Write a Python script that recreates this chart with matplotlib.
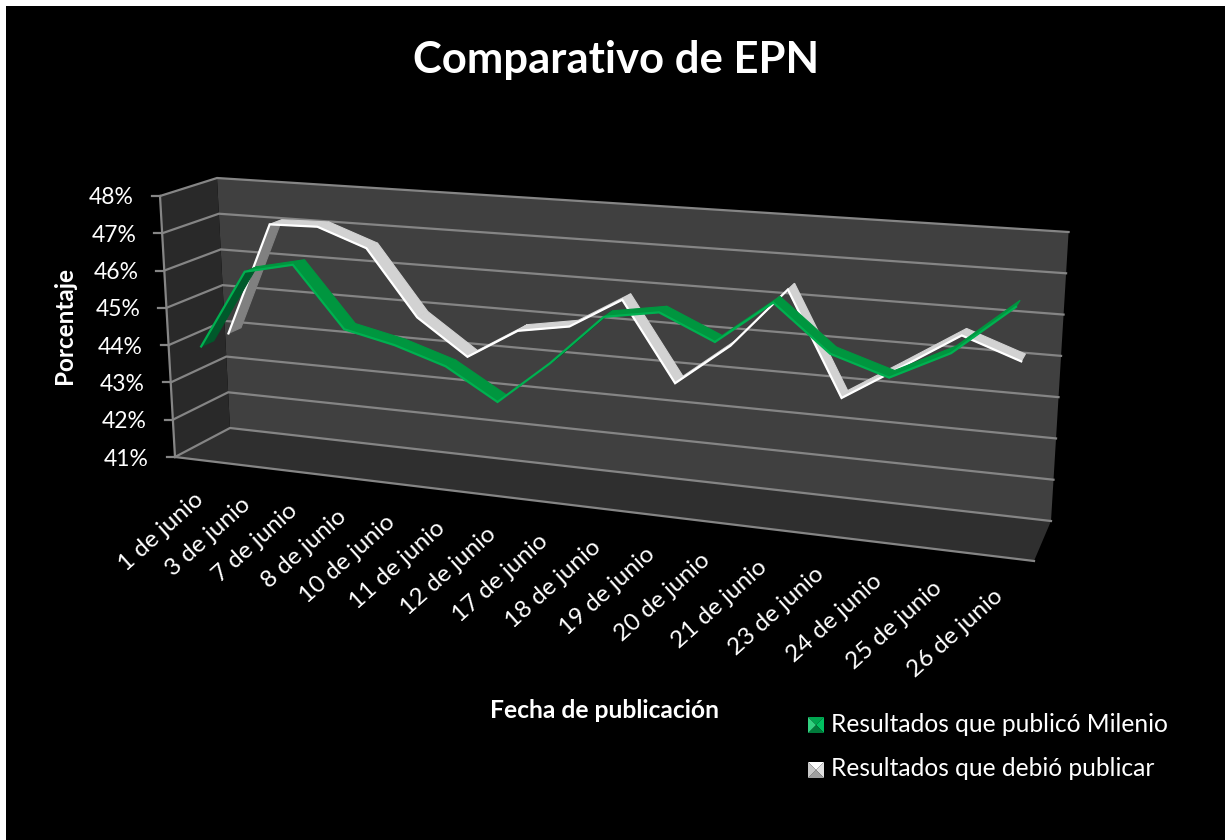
"""
Comparativo de EPN: grafico de lineas con efecto 3D (estilo Excel).
"""
import matplotlib
matplotlib.use("Agg")
import matplotlib.pyplot as plt
import numpy as np

# Datos
FECHAS = ["1 de junio", "3 de junio", "7 de junio", "8 de junio", "10 de junio", "11 de junio",
          "12 de junio", "17 de junio", "18 de junio", "19 de junio", "20 de junio", "21 de junio",
          "23 de junio", "24 de junio", "25 de junio", "26 de junio"]
MILENIO = [43.97, 46.08, 46.37, 44.79, 44.50, 44.08, 43.30, 44.41,
           45.70, 45.93, 45.32, 46.40, 45.28, 44.84, 45.55, 46.76]
DEBIO = [43.99, 47.07, 47.10, 46.62, 44.89, 43.97, 44.77, 45.00,
         45.80, 43.80, 44.87, 46.39, 43.83, 44.71, 45.61, 45.11]
Y_TICKS = [41, 42, 43, 44, 45, 46, 47, 48]

# Estilo
C_WALL = "#404040"
C_SIDE = "#292929"
C_FLOOR = "#2F2F2F"
C_GRID = "#858585"
C_GREEN = ("#00B050", "#00963F", "#00592B")
C_WHITE = ("#FFFFFF", "#D2D2D2", "#808080")

plt.rcParams.update({
    "font.family": ["Lato", "DejaVu Sans"],
    "figure.facecolor": "white",
})

# Esquinas de la caja en pixeles: (izq/der, abajo/arriba) para frente y fondo
FRONT = {"lb": (175, 457), "rb": (1034, 561), "lt": (160, 196), "rt": (1052, 259)}
BACK = {"lb": (230, 428), "rb": (1051, 521), "lt": (217, 178), "rt": (1068.6, 232)}


def cat_pos(i):
    """Posicion de la categoria a lo largo del eje, con perspectiva."""
    i = np.asarray(i, dtype=float)
    return (0.031 + 0.0535 * i) / (1 - 0.00884 * i)


def project(s, v, d):
    """Proyecta (s a lo largo, v porcentaje, d profundidad) a pixeles."""
    s, v, d = np.asarray(s, float), np.asarray(v, float), np.asarray(d, float)
    t = (v - Y_TICKS[0]) / (Y_TICKS[-1] - Y_TICKS[0])
    pts = []
    for k in (0, 1):
        f = (1 - s) * ((1 - t) * FRONT["lb"][k] + t * FRONT["lt"][k]) + s * ((1 - t) * FRONT["rb"][k] + t * FRONT["rt"][k])
        b = (1 - s) * ((1 - t) * BACK["lb"][k] + t * BACK["lt"][k]) + s * ((1 - t) * BACK["rb"][k] + t * BACK["rt"][k])
        pts.append((1 - d) * f + d * b)
    return pts[0], pts[1]


def draw_box(ax):
    xs, ys = project([0, 1, 1, 0], [41, 41, 48, 48], 1)
    ax.fill(xs, ys, color=C_WALL, lw=0, zorder=1)
    xs, ys = project([0, 0, 0, 0], [41, 41, 48, 48], [0, 1, 1, 0])
    ax.fill(xs, ys, color=C_SIDE, lw=0, zorder=1)
    xs, ys = project([0, 1, 1, 0], [41, 41, 41, 41], [0, 0, 1, 1])
    ax.fill(xs, ys, color=C_FLOOR, lw=0, zorder=1)

    for v in Y_TICKS:
        xs, ys = project([0, 0, 1], [v, v, v], [0, 1, 1])
        ax.plot(xs, ys, color=C_GRID, lw=1.6, zorder=2, solid_joinstyle="miter")
        # marca del eje y etiqueta
        x0, y0 = project(0, v, 0)
        ax.plot([x0 - 8, x0], [y0, y0], color=C_GRID, lw=1.6, zorder=2)
        ax.text(x0 - 26, y0 + 2, f"{v}%", ha="right", va="center", color="white", fontsize=16.5)

    xs, ys = project([0, 0], [41, 48], [0, 0])
    ax.plot(xs, ys, color=C_GRID, lw=1.6, zorder=2)
    xs, ys = project([0, 1], [41, 41], [0, 0])
    ax.plot(xs, ys, color=C_GRID, lw=1.6, zorder=2)


def draw_series(ax, values, colors, d0, d1, z):
    """Cinta 3D: un cuadrilatero por tramo y la linea frontal encima."""
    s = cat_pos(np.arange(len(values)))
    vals = np.array(values)
    xf, yf = project(s, vals, d0)
    xb, yb = project(s, vals, d1)
    for i in range(len(vals) - 1):
        dx, dy = xf[i + 1] - xf[i], yf[i + 1] - yf[i]
        ox, oy = xb[i] - xf[i], yb[i] - yf[i]
        cara = colors[2] if dx * oy - dy * ox > 0 else colors[1]
        ax.fill([xf[i], xf[i + 1], xb[i + 1], xb[i]], [yf[i], yf[i + 1], yb[i + 1], yb[i]],
                color=cara, lw=0.8, zorder=z)
    ax.plot(xf, yf, color=colors[0], lw=1.6, zorder=z + 0.5, solid_joinstyle="miter")


def legend_item(ax, x, y, label, shades):
    """Marcador biselado de la leyenda y su texto."""
    r = 8
    cx, cy = x, y
    corners = [(cx - r, cy - r), (cx + r, cy - r), (cx + r, cy + r), (cx - r, cy + r)]
    for k in range(4):
        a, b = corners[k], corners[(k + 1) % 4]
        ax.fill([a[0], b[0], cx], [a[1], b[1], cy], color=shades[k], lw=0, zorder=5)
    ax.text(x + 15, y - 1, label, ha="left", va="center", color="white", fontsize=17.7)


def main():
    fig = plt.figure(figsize=(12.25, 8.4), dpi=100)
    ax = fig.add_axes([0, 0, 1, 1])
    ax.set_xlim(0, 1225)
    ax.set_ylim(840, 0)
    ax.axis("off")
    # borde blanco arriba e izquierda de la captura
    ax.fill([6, 1225, 1225, 6], [6, 6, 840, 840], color="black", lw=0, zorder=0)

    ax.text(616, 60, "Comparativo de EPN", ha="center", va="center", color="white",
            fontsize=31.4, fontweight="bold")

    draw_box(ax)
    draw_series(ax, DEBIO, C_WHITE, 0.6, 0.83, 3)
    draw_series(ax, MILENIO, C_GREEN, 0.1, 0.33, 4)

    for i, fecha in enumerate(FECHAS):
        x0, y0 = project(cat_pos(i), 41, 0)
        ax.text(x0 - 8, y0 + 28, fecha, rotation=42, rotation_mode="anchor", ha="right", va="top",
                color="white", fontsize=17.5)

    ax.text(65, 326, "Porcentaje", rotation=90, ha="center", va="center", color="white",
            fontsize=17.5, fontweight="bold")
    ax.text(604, 710, "Fecha de publicación", ha="center", va="center", color="white",
            fontsize=17.7, fontweight="bold")

    legend_item(ax, 816, 725, "Resultados que publicó Milenio", ("#00A650", "#00C060", "#007A3A", "#33D080"))
    legend_item(ax, 816, 770, "Resultados que debió publicar", ("#FFFFFF", "#E0E0E0", "#A0A0A0", "#C8C8C8"))

    fig.savefig("out.png", dpi=100)
    plt.close()


if __name__ == "__main__":
    main()
